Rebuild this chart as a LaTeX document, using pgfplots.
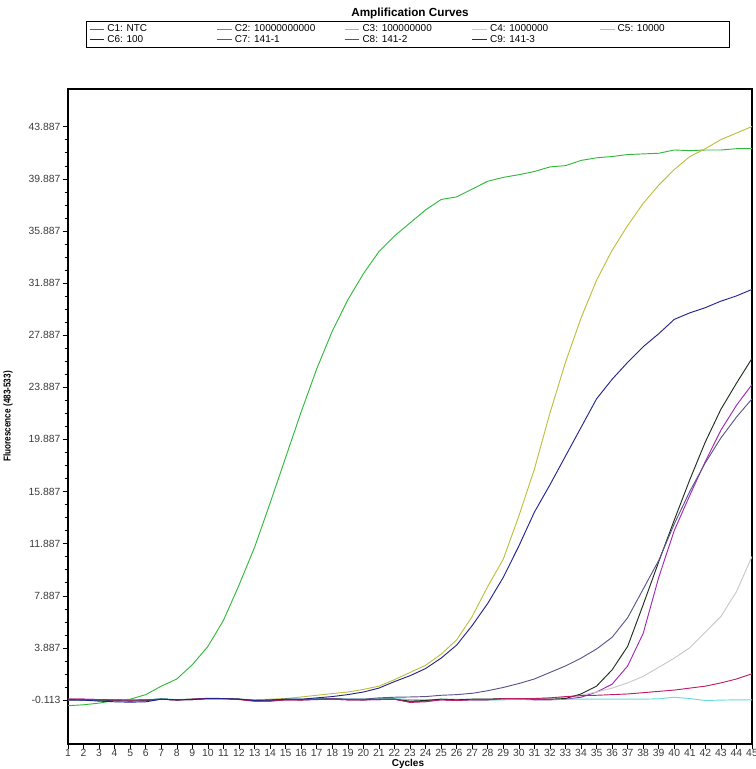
\documentclass[border=0pt]{standalone}
\usepackage{pgfplots}
\pgfplotsset{compat=1.18}
\usepackage{pgfplotstable}
\usepackage{fontspec}
\setmainfont{Liberation Sans}

\definecolor{cA}{RGB}{160,40,180}
\definecolor{cB}{RGB}{50,185,60}
\definecolor{cC}{RGB}{190,190,60}
\definecolor{cD}{RGB}{200,200,200}
\definecolor{cE}{RGB}{100,220,225}
\definecolor{cF}{RGB}{30,45,30}
\definecolor{cG}{RGB}{90,85,140}
\definecolor{cH}{RGB}{190,30,100}
\definecolor{cI}{RGB}{35,35,140}
\definecolor{ticktext}{RGB}{60,60,60}

% cycle, C1..C9 fluorescence
\pgfplotstableread{
cyc c1 c2 c3 c4 c5 c6 c7 c8 c9
1 -0.05 -0.55 -0.1 -0.1 -0.1 -0.1 -0.08 -0.05 -0.1
2 -0.05 -0.48 -0.1 -0.1 -0.1 -0.1 -0.08 -0.05 -0.12
3 -0.08 -0.35 -0.12 -0.1 -0.12 -0.12 -0.1 -0.08 -0.2
4 -0.1 -0.15 -0.12 -0.12 -0.12 -0.15 -0.12 -0.1 -0.25
5 -0.12 -0.05 -0.15 -0.15 -0.15 -0.2 -0.15 -0.12 -0.28
6 -0.1 0.3 -0.12 -0.1 -0.12 -0.15 -0.12 -0.1 -0.25
7 -0.05 0.95 -0.05 -0.05 0.0 -0.05 -0.05 -0.05 -0.05
8 -0.1 1.5 -0.1 -0.1 -0.08 -0.1 -0.1 -0.12 -0.1
9 -0.08 2.6 -0.05 -0.05 -0.05 -0.05 -0.08 -0.05 -0.08
10 0.0 4.0 0.0 0.0 0.02 0.0 0.0 0.02 0.0
11 0.0 6.0 0.0 0.0 0.0 0.0 0.0 0.0 0.0
12 -0.05 8.7 -0.05 -0.05 -0.05 -0.05 -0.05 -0.08 -0.05
13 -0.2 11.6 -0.1 -0.15 -0.1 -0.15 -0.15 -0.2 -0.15
14 -0.2 15.0 -0.05 -0.15 -0.1 -0.12 -0.15 -0.2 -0.12
15 -0.1 18.5 0.0 -0.05 -0.05 -0.05 -0.1 -0.1 -0.05
16 -0.1 22.0 0.12 -0.08 -0.05 -0.1 -0.08 -0.12 -0.05
17 -0.05 25.3 0.25 -0.05 0.0 -0.05 -0.05 -0.08 0.05
18 -0.05 28.2 0.38 0.0 0.0 -0.02 0.0 -0.05 0.15
19 -0.1 30.6 0.5 -0.05 -0.05 -0.08 -0.05 -0.1 0.3
20 -0.1 32.6 0.7 -0.05 -0.05 -0.1 -0.05 -0.1 0.5
21 -0.08 34.3 0.95 -0.05 -0.02 -0.05 0.05 -0.08 0.8
22 -0.05 35.5 1.45 -0.05 0.0 -0.05 0.1 -0.05 1.3
23 -0.25 36.5 2.0 -0.1 -0.08 -0.2 0.12 -0.3 1.75
24 -0.2 37.5 2.55 -0.1 -0.1 -0.15 0.15 -0.25 2.3
25 -0.1 38.3 3.4 -0.05 -0.05 -0.05 0.25 -0.1 3.1
26 -0.15 38.5 4.5 -0.05 -0.1 -0.1 0.3 -0.15 4.1
27 -0.1 39.1 6.3 -0.05 -0.1 -0.05 0.4 -0.1 5.6
28 -0.1 39.7 8.6 -0.05 -0.1 -0.05 0.6 -0.1 7.3
29 -0.05 40.0 10.7 0.0 -0.1 0.0 0.85 0.0 9.3
30 -0.05 40.2 14.0 0.0 -0.05 0.0 1.15 0.0 11.7
31 -0.1 40.45 17.6 0.0 -0.08 -0.05 1.5 0.0 14.3
32 -0.1 40.8 21.9 0.05 -0.08 -0.05 2.0 0.05 16.4
33 -0.05 40.9 25.8 0.1 -0.05 0.0 2.5 0.15 18.6
34 0.1 41.3 29.2 0.25 -0.05 0.35 3.1 0.22 20.8
35 0.5 41.5 32.1 0.5 -0.05 0.95 3.8 0.25 23.0
36 1.1 41.6 34.4 0.8 -0.05 2.2 4.7 0.3 24.5
37 2.5 41.75 36.3 1.2 -0.05 4.0 6.2 0.35 25.8
38 5.0 41.8 38.0 1.7 -0.05 7.2 8.4 0.45 27.0
39 9.3 41.85 39.4 2.4 -0.02 10.5 10.6 0.55 28.0
40 12.9 42.1 40.6 3.1 0.1 13.7 13.4 0.65 29.1
41 15.6 42.05 41.6 3.9 0.0 16.8 15.9 0.8 29.6
42 18.2 42.1 42.2 5.1 -0.15 19.7 18.1 0.95 30.0
43 20.6 42.1 42.9 6.3 -0.12 22.2 20.0 1.2 30.5
44 22.5 42.2 43.4 8.2 -0.1 24.2 21.6 1.5 30.9
45 24.1 42.2 43.9 10.9 -0.1 26.1 23.0 1.9 31.4
}\curves

\newcommand{\legtext}[1]{\makebox[80pt][l]{#1}}

\begin{document}
\begin{tikzpicture}
\useasboundingbox (0,0) rectangle (567pt,-576.75pt);
\begin{axis}[
    at={(51pt,-558pt)},
    anchor=south west,
    scale only axis,
    width=513pt,
    height=491.25pt,
    xmin=1, xmax=45,
    ymin=-3.49, ymax=46.78,
    xtick={1,...,45},
    ytick={-0.113,3.887,...,43.887},
    minor y tick num=3,
    tick align=outside,
    tick pos=left,
    major tick length=4pt,
    minor tick length=2.5pt,
    tick style={black, line width=0.4pt},
    axis line style={black, line width=0.8pt},
    yticklabel={\pgfmathprintnumber[fixed,fixed zerofill,precision=3]{\tick}},
    /pgf/number format/assume math mode=true,
    tick label style={font=\fontsize{7.8}{9}\selectfont, text=ticktext},
    xticklabel style={inner sep=1pt, yshift=1pt},
    yticklabel style={inner sep=1.5pt},
    title={Amplification Curves},
    title style={font=\fontsize{8.8}{10}\selectfont\bfseries, at={(0.5,1)}, anchor=center, yshift=51pt},
    xlabel={Cycles},
    xlabel style={font=\fontsize{7.5}{9}\selectfont\bfseries, at={(axis description cs:0.497,-0.0305)}, anchor=center},
    ylabel={\scalebox{0.82}[1]{Fluorescence (483-533)}},
    ylabel style={font=\fontsize{7.5}{9}\selectfont\bfseries, at={(axis description cs:-0.0877,0.5)}, anchor=center},
    legend columns=5,
    legend style={at={(0.0263,1.1038)}, anchor=north west, draw=black, line width=0.6pt,
        font=\fontsize{7.5}{8}\selectfont, inner xsep=2pt, inner ysep=0.3pt, row sep=-2.5pt,
        /tikz/every even column/.append style={column sep=0pt}},
    legend cell align=left,
    legend image code/.code={\draw[#1, line width=0.7pt] (0pt,0pt) -- (11pt,0pt);},
    every axis plot/.append style={line width=0.7pt},
]
\addplot[cA] table[x=cyc, y=c1] {\curves};
\addlegendentry{\legtext{C1: NTC}}
\addplot[cB] table[x=cyc, y=c2] {\curves};
\addlegendentry{\legtext{C2: 10000000000}}
\addplot[cC] table[x=cyc, y=c3] {\curves};
\addlegendentry{\legtext{C3: 100000000}}
\addplot[cD] table[x=cyc, y=c4] {\curves};
\addlegendentry{\legtext{C4: 1000000}}
\addplot[cE] table[x=cyc, y=c5] {\curves};
\addlegendentry{\legtext{C5: 10000}}
\addplot[cF] table[x=cyc, y=c6] {\curves};
\addlegendentry{\legtext{C6: 100}}
\addplot[cG] table[x=cyc, y=c7] {\curves};
\addlegendentry{\legtext{C7: 141-1}}
\addplot[cH] table[x=cyc, y=c8] {\curves};
\addlegendentry{\legtext{C8: 141-2}}
\addplot[cI] table[x=cyc, y=c9] {\curves};
\addlegendentry{\legtext{C9: 141-3}}
\end{axis}
\end{tikzpicture}
\end{document}
